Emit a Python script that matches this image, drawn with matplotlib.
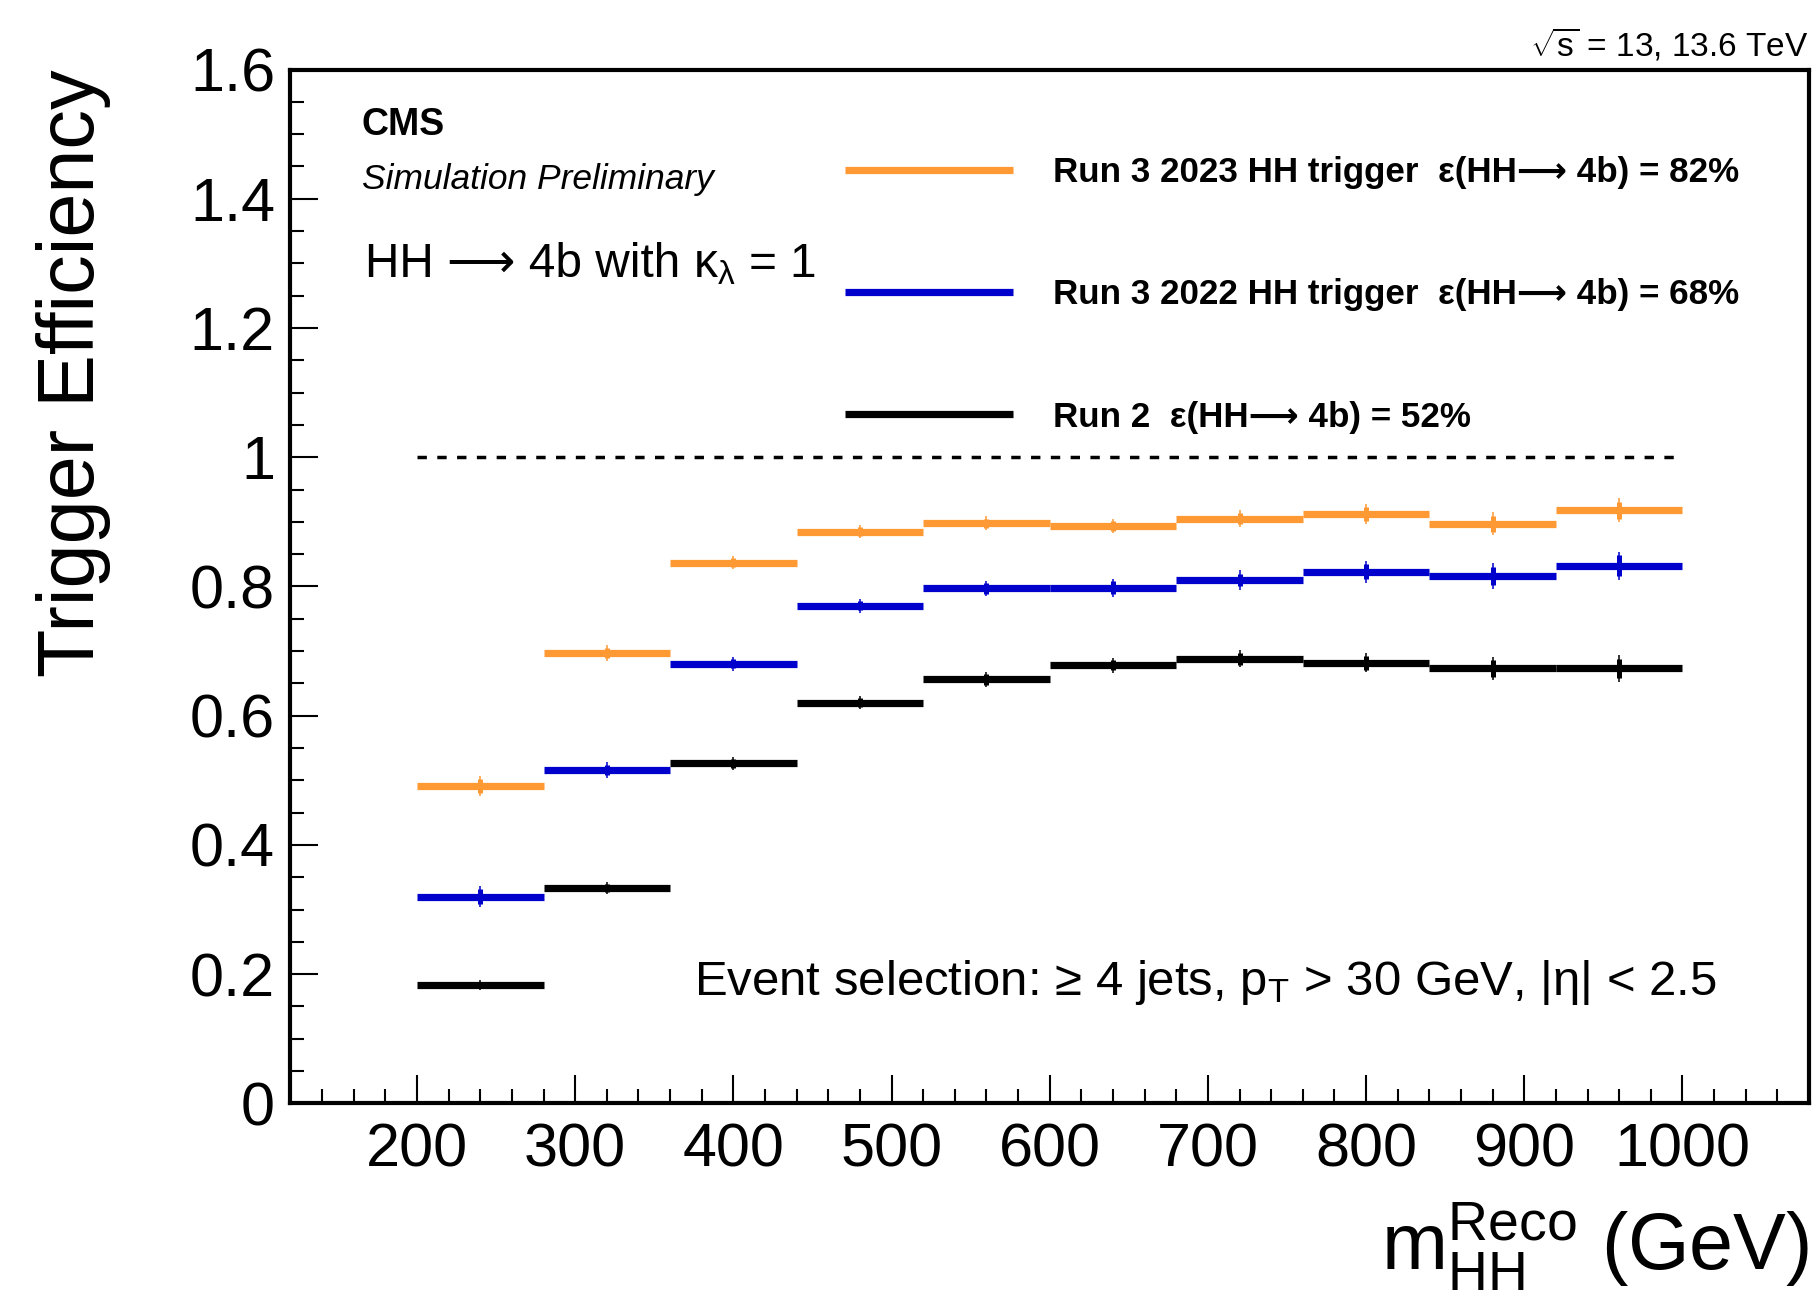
import matplotlib
matplotlib.use("Agg")
import matplotlib.pyplot as plt
from matplotlib.ticker import MultipleLocator, FormatStrFormatter
from matplotlib.font_manager import FontProperties
from matplotlib.offsetbox import TextArea, HPacker, AnchoredOffsetbox
import numpy as np

plt.rcParams['font.family'] = ['Liberation Sans', 'DejaVu Sans']
plt.rcParams['mathtext.fontset'] = 'custom'
plt.rcParams['mathtext.rm'] = 'Liberation Sans'
plt.rcParams['mathtext.it'] = 'Liberation Sans:italic'
plt.rcParams['mathtext.bf'] = 'Liberation Sans:bold'
plt.rcParams['mathtext.sf'] = 'Liberation Sans'
plt.rcParams['mathtext.default'] = 'regular'

# ---- data ----
bin_edges = [200, 280, 360, 440, 520, 600, 680, 760, 840, 920, 1000]

eff_2023 = [0.491, 0.697, 0.837, 0.885, 0.898, 0.894, 0.905, 0.912, 0.897, 0.918]
err_2023 = [0.016, 0.012, 0.010, 0.010, 0.011, 0.011, 0.013, 0.015, 0.018, 0.019]
stat_2023 = [0.011, 0.008, 0.007, 0.007, 0.007, 0.008, 0.009, 0.011, 0.012, 0.013]

eff_2022 = [0.320, 0.516, 0.680, 0.770, 0.797, 0.798, 0.810, 0.823, 0.816, 0.832]
err_2022 = [0.016, 0.012, 0.011, 0.011, 0.012, 0.014, 0.015, 0.017, 0.020, 0.022]
stat_2022 = [0.011, 0.008, 0.007, 0.007, 0.008, 0.010, 0.010, 0.012, 0.014, 0.016]

eff_run2 = [0.183, 0.333, 0.526, 0.620, 0.656, 0.678, 0.688, 0.682, 0.673, 0.673]
err_run2 = [0.008, 0.009, 0.010, 0.010, 0.011, 0.012, 0.013, 0.015, 0.018, 0.021]
stat_run2 = [0.005, 0.006, 0.007, 0.007, 0.008, 0.008, 0.009, 0.011, 0.013, 0.015]

labels = ["Run 3 2023 HH trigger  ε(HH⟶ 4b) = 82%",
          "Run 3 2022 HH trigger  ε(HH⟶ 4b) = 68%",
          "Run 2  ε(HH⟶ 4b) = 52%"]
colors = ["#FF9933", "#0000CC", "#000000"]

reference_level = 1.0

# ---- figure ----
fig = plt.figure(figsize=(18.15, 12.95), dpi=100)
ax = fig.add_axes([0.160, 0.148, 0.8367, 0.7983])

edges = np.array(bin_edges)
centers = 0.5 * (edges[:-1] + edges[1:])

series = [(eff_2023, err_2023, stat_2023), (eff_2022, err_2022, stat_2022), (eff_run2, err_run2, stat_run2)]
for (vals, err, stat), col, lab in zip(series, colors, labels):
    ax.errorbar(centers, vals, yerr=err, fmt='none', ecolor=col, elinewidth=1.1, capsize=0, zorder=3)
    ax.errorbar(centers, vals, yerr=stat, fmt='none', ecolor=col, elinewidth=3.6, capsize=0, zorder=3)
    ax.hlines(vals, edges[:-1], edges[1:], colors=col, linewidth=5.2, label=lab, zorder=4)

ax.hlines(reference_level, edges[0], edges[-1], colors='black', linewidth=2.5,
          linestyles=(0, (2.7, 3.0)), zorder=2)

ax.set_xlim(120, 1080)
ax.set_ylim(0, 1.6)

ax.xaxis.set_major_locator(MultipleLocator(100))
ax.xaxis.set_minor_locator(MultipleLocator(20))
ax.yaxis.set_major_locator(MultipleLocator(0.2))
ax.yaxis.set_minor_locator(MultipleLocator(0.05))
ax.yaxis.set_major_formatter(FormatStrFormatter('%g'))

ax.tick_params(axis='both', which='both', direction='in', top=False, right=False, width=1.5)
ax.tick_params(axis='both', which='major', length=20, labelsize=44)
ax.tick_params(axis='both', which='minor', length=10)
ax.tick_params(axis='y', which='major', pad=11)
ax.tick_params(axis='x', which='major', pad=14)

for sp in ax.spines.values():
    sp.set_linewidth(3)

ax.set_ylabel("Trigger Efficiency", fontsize=57, loc='top')
ax.yaxis.set_label_coords(-0.118, 1.0)
ax.set_xlabel(r"$m_{HH}^{Reco}$ (GeV)", fontsize=57, loc='right')
ax.xaxis.set_label_coords(1.0, -0.094)

ax.text(0.047, 0.946, "CMS", transform=ax.transAxes, fontsize=27, fontweight='bold',
        ha='left', va='center')
ax.text(0.047, 0.894, "Simulation Preliminary", transform=ax.transAxes, fontsize=25.5,
        style='italic', ha='left', va='center')

fam = ['Liberation Sans', 'DejaVu Sans']
ta1 = TextArea("HH ⟶ 4b with ", textprops=dict(fontsize=34.4, family=fam))
ta2 = TextArea(r"κ$_{λ}$ = 1", textprops=dict(fontsize=34.4))
hh_box = HPacker(children=[ta1, ta2], align='baseline', pad=0, sep=0)
anch = AnchoredOffsetbox(loc='center left', child=hh_box, pad=0, borderpad=0, frameon=False,
                         bbox_to_anchor=(0.049, 0.811), bbox_transform=ax.transAxes)
ax.add_artist(anch)

ax.text(0.266, 0.117, r"Event selection: ≥ 4 jets, $p_{T}$ > 30 GeV, |η| < 2.5",
        transform=ax.transAxes, fontsize=35.4, ha='left', va='center')
ax.text(1.0, 1.0135, r"$\sqrt{s}$ = 13, 13.6 TeV", transform=ax.transAxes, fontsize=24,
        ha='right', va='baseline')

leg_font = FontProperties(family=fam, size=25.2, weight='bold')
leg = ax.legend(loc='upper left', bbox_to_anchor=(0.3655, 0.9163), frameon=False,
                prop=leg_font, handlelength=4.8, handletextpad=1.12,
                labelspacing=2.55, borderpad=0, borderaxespad=0)

fig.savefig("out.png", dpi=100)
